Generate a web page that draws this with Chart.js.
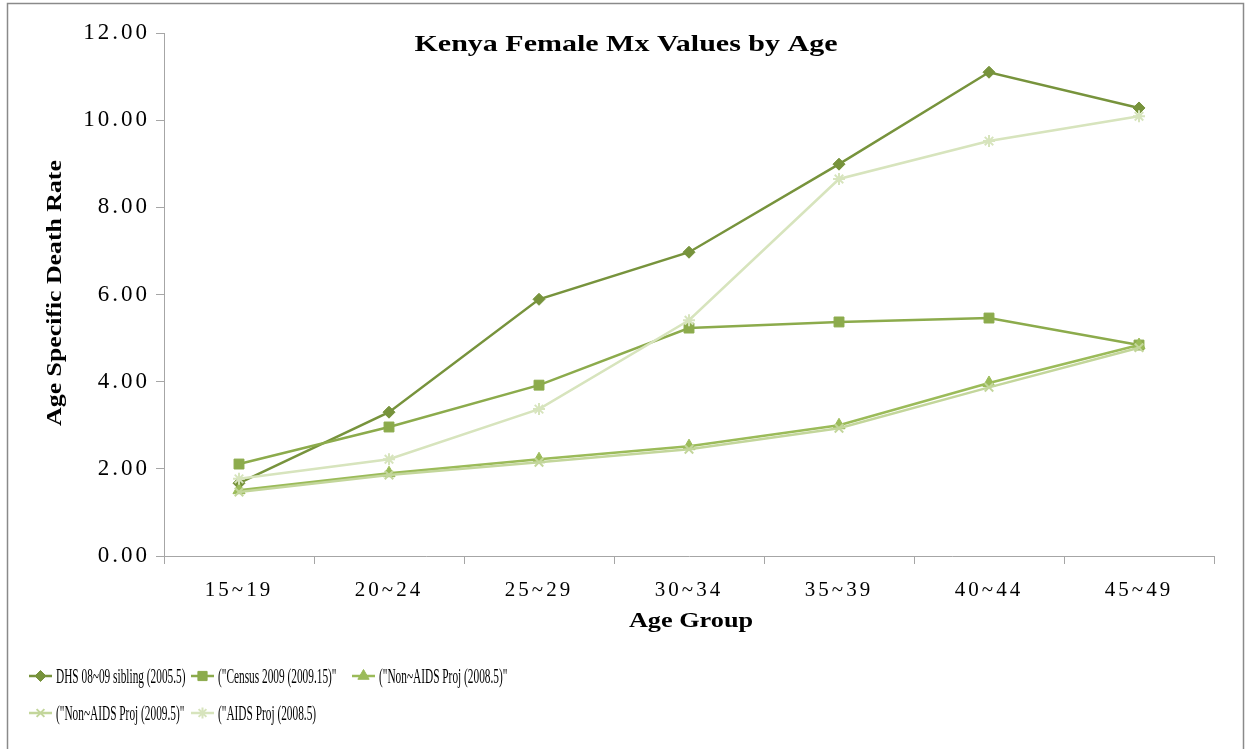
<!DOCTYPE html>
<html>
<head>
<meta charset="utf-8">
<script src="https://cdn.jsdelivr.net/npm/chart.js@4.4.0/dist/chart.umd.min.js"></script>
<style>
  html, body { margin: 0; padding: 0; background: #fff; }
  #wrap { position: relative; width: 1245px; height: 749px; }
</style>
</head>
<body>
<div id="wrap"><canvas id="c" width="1245" height="749"></canvas></div>
<script>
const categories = ["15~19", "20~24", "25~29", "30~34", "35~39", "40~44", "45~49"];
const yTicks = [0, 2, 4, 6, 8, 10, 12];

const dhsSibling = [1.67, 3.30, 5.89, 6.97, 8.99, 11.10, 10.28];
const census2009 = [2.11, 2.96, 3.92, 5.23, 5.37, 5.46, 4.84];
const nonAids2008 = [1.51, 1.90, 2.22, 2.52, 3.00, 3.97, 4.84];
const nonAids2009 = [1.47, 1.86, 2.15, 2.45, 2.93, 3.87, 4.78];
const aids2008 = [1.77, 2.22, 3.37, 5.41, 8.65, 9.52, 10.09];

const seriesNames = [
  "DHS 08~09 sibling (2005.5)",
  "(\"Census 2009 (2009.15)\"",
  "(\"Non~AIDS Proj (2008.5)\"",
  "(\"Non~AIDS Proj (2009.5)\"",
  "(\"AIDS Proj (2008.5)"
];
const seriesColors = ["#77933C", "#8CAB4C", "#9BBB59", "#C3D69B", "#D7E4BD"];
const seriesMarkers = ["rectRot", "rect", "triangle", "crossRot", "star"];
const seriesRadius = [6, 7, 7, 6, 6];
const seriesValues = [dhsSibling, census2009, nonAids2008, nonAids2009, aids2008];

const datasets = seriesNames.map((n, i) => ({
  label: n,
  data: seriesValues[i],
  borderColor: seriesColors[i],
  backgroundColor: seriesColors[i],
  pointBackgroundColor: seriesColors[i],
  pointBorderColor: seriesColors[i],
  pointStyle: seriesMarkers[i],
  pointRadius: seriesRadius[i],
  pointBorderWidth: (seriesMarkers[i] === "crossRot" || seriesMarkers[i] === "star") ? 2 : 1,
  borderWidth: 2.5,
  tension: 0,
  order: 5 - i
}));

const SERIF = "'Liberation Serif', 'DejaVu Serif', serif";

function spacedText(ctx, text, x, y, sx) {
  ctx.save();
  ctx.translate(x, y);
  ctx.scale(sx, 1);
  ctx.fillText(text, 0, 0);
  ctx.restore();
}

const spacingPlugin = {
  id: 'spacing',
  beforeUpdate(chart) { chart.ctx.letterSpacing = '3px'; },
  beforeDraw(chart) { chart.ctx.letterSpacing = '3px'; }
};

const decorPlugin = {
  id: 'decor',
  afterDraw(chart) {
    const ctx = chart.ctx;
    ctx.save();
    ctx.letterSpacing = '0px';
    // outer border
    ctx.strokeStyle = '#8a8a8a';
    ctx.lineWidth = 1.5;
    ctx.strokeRect(7.5, 3.5, 1236, 760);
    // title
    ctx.fillStyle = '#000';
    ctx.textAlign = 'center';
    ctx.textBaseline = 'middle';
    ctx.font = "bold 24px " + SERIF;
    spacedText(ctx, "Kenya Female Mx Values by Age", 626, 45, 1.25);
    // x axis title
    ctx.font = "bold 21px " + SERIF;
    spacedText(ctx, "Age Group", 691, 622, 1.25);
    // y axis title
    ctx.save();
    ctx.translate(56, 293);
    ctx.rotate(-Math.PI / 2);
    ctx.font = "bold 20px " + SERIF;
    spacedText(ctx, "Age Specific Death Rate", 0, 0, 1.29);
    ctx.restore();
    // legend
    const pos = [[29, 676], [191, 676], [352, 676], [29, 713], [191, 713]];
    ctx.font = "22px " + SERIF;
    chart.data.datasets.forEach((ds, i) => {
      const [x, y] = pos[i];
      ctx.strokeStyle = ds.borderColor;
      ctx.fillStyle = ds.pointBackgroundColor;
      ctx.lineWidth = 2.5;
      ctx.beginPath();
      ctx.moveTo(x, y);
      ctx.lineTo(x + 23, y);
      ctx.stroke();
      ctx.lineWidth = ds.pointBorderWidth;
      Chart.helpers.drawPoint(ctx, {
        pointStyle: ds.pointStyle,
        radius: ds.pointRadius - 0.5,
        rotation: 0,
        borderWidth: ds.pointBorderWidth
      }, x + 11.5, y);
      ctx.fillStyle = '#000';
      ctx.textAlign = 'left';
      spacedText(ctx, ds.label, x + 27, y + 1, 0.515);
    });
    ctx.restore();
  }
};

new Chart(document.getElementById('c'), {
  type: 'line',
  data: { labels: categories, datasets },
  options: {
    responsive: false,
    animation: false,
    devicePixelRatio: 1,
    layout: { padding: { top: 33, left: 0, right: 31, bottom: 0 } },
    plugins: { legend: { display: false }, title: { display: false }, tooltip: { enabled: false } },
    scales: {
      x: {
        type: 'category',
        offset: true,
        grid: { offset: true, drawOnChartArea: false, tickLength: 8, color: '#a6a6a6' },
        border: { color: '#a6a6a6', width: 1 },
        ticks: { color: '#000', font: { family: SERIF, size: 21 }, padding: 14, maxRotation: 0 },
        afterFit(s) { s.height = 749 - 556; }
      },
      y: {
        min: 0, max: 12,
        afterBuildTicks(s) { s.ticks = yTicks.map(v => ({ value: v })); },
        grid: { drawOnChartArea: false, tickLength: 8, color: '#a6a6a6' },
        border: { color: '#a6a6a6', width: 1 },
        ticks: {
          color: '#000', font: { family: SERIF, size: 23 }, padding: 6,
          callback: v => Number(v).toFixed(2)
        },
        afterFit(s) { s.width = 164; }
      }
    }
  },
  plugins: [spacingPlugin, decorPlugin]
});
</script>
</body>
</html>
